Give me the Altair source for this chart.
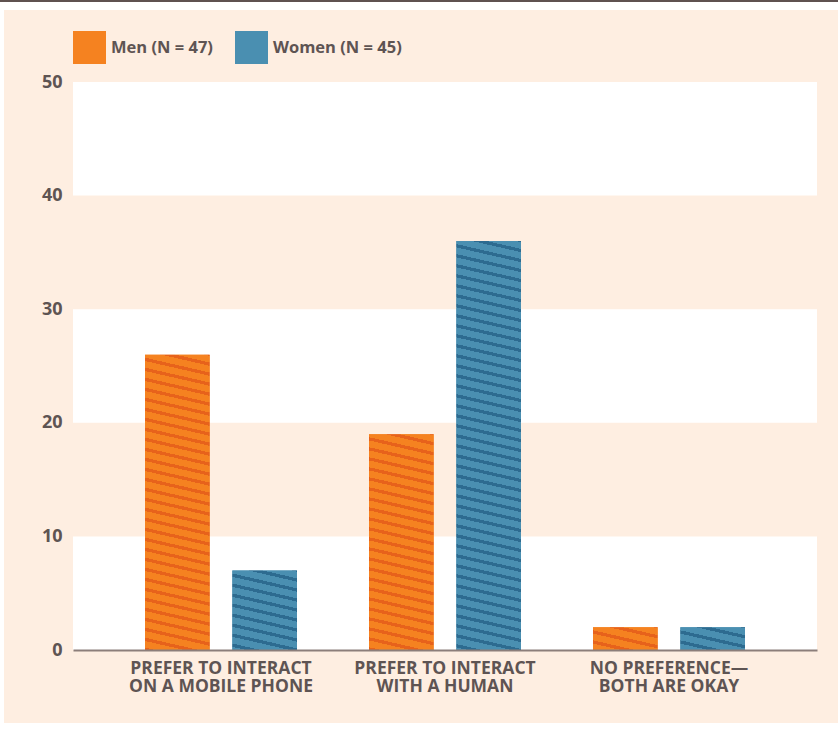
import math
import altair as alt
import pandas as pd

# ---------------- data ----------------
categories = [
    "PREFER TO INTERACT\nON A MOBILE PHONE",
    "PREFER TO INTERACT\nWITH A HUMAN",
    "NO PREFERENCE\u2014\nBOTH ARE OKAY",
]
groups = ["Men (N = 47)", "Women (N = 45)"]
men_values = [26, 19, 2]
women_values = [7, 36, 2]
y_ticks = [0, 10, 20, 30, 40, 50]
band_low = [0, 20, 40]
band_high = [10, 30, 50]

# ---------------- layout / style ----------------
W, H = 744, 568
Y_MAX = 50
PAD_L, PAD_T, PAD_R, PAD_B = 73, 82, 21, 81
PEACH = "#feeee1"
TEXT = "#5e5453"
AXIS_LINE = "#8c7e7a"
TOP_LINE = "#5f5250"
FONT = "Open Sans"
BASE = ["#f58220", "#4a8fb1"]
DARK = ["#e7621b", "#2d6b90"]

X_PAD = 72 / 224
OFF_PAD = 0.26
x_step = W / (len(categories) + X_PAD)
x_bw = x_step * (1 - X_PAD)
off_step = x_bw / (len(groups) - OFF_PAD)
BAR_W = off_step * (1 - OFF_PAD)

SLOPE = 0.23
PERIOD = 10.0
STRIPE = 3.3
PHASE = 3.0


def stripe_gradient(value, base, dark):
    h = value * H / Y_MAX
    w = BAR_W
    s = SLOPE
    fmin, fmax = -s * w, h
    span = fmax - fmin
    lam = (s * w + h) / (s * s * w * w + h * h)
    stops = [{"offset": 0, "color": base}]
    k = math.floor((fmin - PHASE) / PERIOD) - 1
    while True:
        a0 = PHASE + k * PERIOD
        a1 = a0 + STRIPE
        if a0 > fmax:
            break
        c0, c1 = max(a0, fmin), min(a1, fmax)
        if c1 > c0:
            t0 = round((c0 - fmin) / span, 5)
            t1 = round((c1 - fmin) / span, 5)
            stops += [
                {"offset": t0, "color": base},
                {"offset": t0, "color": dark},
                {"offset": t1, "color": dark},
                {"offset": t1, "color": base},
            ]
        k += 1
    stops.append({"offset": 1, "color": base})
    return {
        "gradient": "linear",
        "x1": 1,
        "y1": 0,
        "x2": round(1 - lam * s * w, 6),
        "y2": round(lam * h, 6),
        "stops": stops,
    }


rows = []
for gi, (g, vals) in enumerate(zip(groups, [men_values, women_values])):
    for ci, (c, v) in enumerate(zip(categories, vals)):
        rows.append({"category": c, "group": g, "value": v, "ci": ci, "gi": gi})
df = pd.DataFrame(rows)
bands = pd.DataFrame({"lo": band_low, "hi": band_high})

x_axis = alt.Axis(
    title=None, domain=True, domainColor=AXIS_LINE, domainWidth=2, ticks=False,
    grid=False, labelAngle=0, labelPadding=9, labelLineHeight=18, labelLimit=0,
    labelFontSize=17.5, labelFont=FONT, labelFontWeight="bold", labelColor=TEXT,
    labelExpr="split(datum.label, '\\n')", zindex=2,
)
y_axis = alt.Axis(
    title=None, values=y_ticks, domain=False, ticks=False, grid=False,
    labelPadding=11, labelFontSize=18, labelFont=FONT, labelFontWeight="bold",
    labelColor=TEXT, zindex=2,
)
x_enc = alt.X("category:N", sort=categories, axis=x_axis,
              scale=alt.Scale(domain=categories, paddingInner=X_PAD, paddingOuter=X_PAD))
xo_enc = alt.XOffset("group:N", sort=groups,
                     scale=alt.Scale(domain=groups, paddingInner=OFF_PAD, paddingOuter=0))
y_enc = alt.Y("value:Q", axis=y_axis, scale=alt.Scale(domain=[0, Y_MAX], nice=False))

one = pd.DataFrame({"a": [0]})
bg = alt.Chart(one).mark_rect(color=PEACH).encode(
    x=alt.value(-PAD_L + 4), x2=alt.value(W + PAD_R),
    y=alt.value(-PAD_T + 10), y2=alt.value(H + PAD_B - 8),
)
top_line = alt.Chart(one).mark_rule(color=TOP_LINE, strokeWidth=2).encode(
    x=alt.value(-PAD_L), x2=alt.value(W + PAD_R), y=alt.value(-PAD_T + 1),
)
band_layer = alt.Chart(bands).mark_rect(color="white").encode(
    x=alt.value(0), x2=alt.value(W),
    y=alt.Y("lo:Q", axis=y_axis, scale=alt.Scale(domain=[0, Y_MAX], nice=False)),
    y2="hi:Q",
)
legend_bars = alt.Chart(df).mark_bar().encode(
    x=x_enc, xOffset=xo_enc, y=y_enc,
    color=alt.Color(
        "group:N", sort=groups,
        scale=alt.Scale(domain=groups, range=BASE),
        legend=alt.Legend(
            title=None, orient="none", legendX=0, legendY=-51, direction="horizontal",
            symbolType="square", symbolSize=1089, symbolStrokeWidth=0, symbolOpacity=1,
            labelFontSize=16.5, labelFont=FONT, labelFontWeight="bold", labelColor=TEXT,
            labelOffset=5, columnPadding=22, padding=0, zindex=3, labelLimit=0,
        ),
    ),
)

striped = []
for r in rows:
    grad = stripe_gradient(r["value"], BASE[r["gi"]], DARK[r["gi"]])
    striped.append(
        alt.Chart(df)
        .transform_filter(f"datum.ci == {r['ci']} && datum.gi == {r['gi']}")
        .mark_bar(fill=grad)
        .encode(x=x_enc, xOffset=xo_enc, y=y_enc)
    )

chart = alt.layer(bg, top_line, band_layer, legend_bars, *striped).properties(
    width=W, height=H,
    padding={"left": PAD_L, "top": PAD_T, "right": PAD_R, "bottom": PAD_B},
    autosize=alt.AutoSizeParams(type="none"),
    background="white",
).configure_view(stroke=None)

chart.save("out.html", embed_options={"renderer": "svg", "actions": False})
